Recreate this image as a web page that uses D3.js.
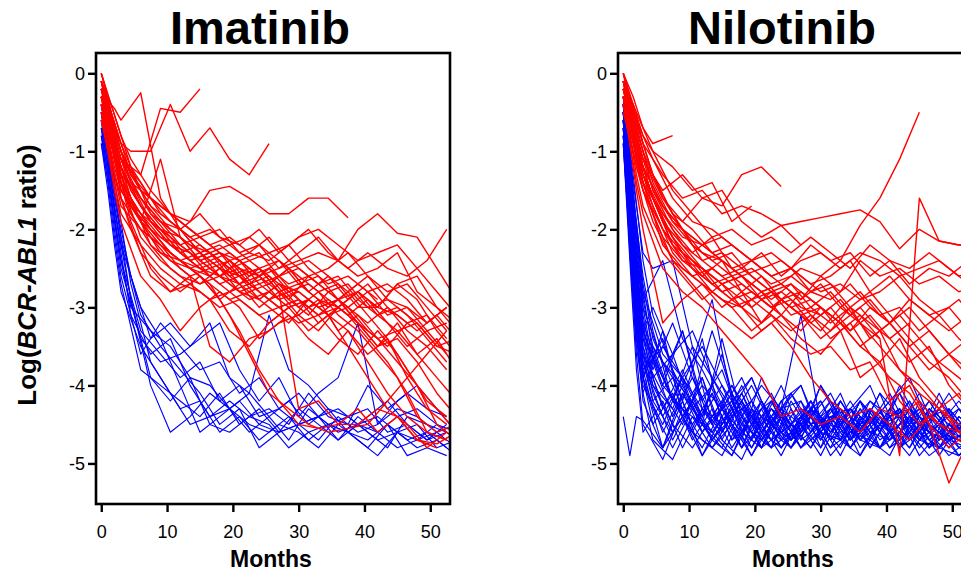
<!DOCTYPE html>
<html>
<head>
<meta charset="utf-8">
<script src="https://cdn.jsdelivr.net/npm/d3@7"></script>
<style>
  html, body { margin: 0; padding: 0; background: #fff; overflow: hidden; }
  svg { display: block; font-family: "Liberation Sans", Arial, sans-serif; }
</style>
</head>
<body>
<svg id="chart" width="961" height="573"></svg>
<script>
// two visit schedules (months)
const monthsA = [0, 1, 2, 3, 6, 9, 12, 15, 18, 21, 24, 27, 30, 33, 36, 39, 42, 45, 48, 51, 54]
const monthsB = [0, 1.5, 3, 4.5, 7.5, 10.5, 13.5, 16.5, 19.5, 22.5, 25.5, 28.5, 31.5, 34.5, 37.5, 40.5, 43.5, 46.5, 49.5, 52.5, 55.5]

const xTicks = [0, 10, 20, 30, 40, 50]
const yTicks = [0, -1, -2, -3, -4, -5]

// Imatinib, log ratio per visit
const imaRedA = [
  [-0.2,-0.35,-0.45,-0.6,-0.25,-1.6,-2.0,-2.3,-2.5,-2.6,-2.5,-2.8,-2.7,-2.9,-3.0,-2.8,-3.1,-3.3,-3.2,-3.5,-3.6],
  [-0.4,-0.7,-1.0,-1.1,-1.3,-0.45,-0.5,-0.2],
  [0,-0.3,-0.8,-1.3,-1.9,-2.2,-2.4,-2.5,-2.7,-2.6,-2.9,-2.7,-2.8,-3.0,-2.9,-3.2,-3.4,-3.3,-3.6,-3.9,-4.2],
  [-0.1,-0.4,-0.9,-1.2,-1.7,-2.0,-2.1,-2.4,-2.3,-2.6,-2.5,-2.4,-2.7,-2.6,-2.9,-2.8,-3.0,-2.7,-2.6,-3.0,-3.3],
  [-0.3,-0.6,-1.0,-1.3,-1.6,-1.9,-2.2,-2.1,-2.3,-2.4,-2.6,-2.5,-2.4,-2.3,-2.4,-2.0,-1.8,-2.05,-2.1,-2.5,-2.9],
  [-0.2,-0.7,-1.1,-1.5,-1.9,-2.3,-2.4,-2.6,-2.9,-3.3,-3.8,-4.2,-4.5,-4.55,-4.5,-4.5,-4.3,-4.4,-4.7,-4.75,-4.6],
  [-0.5,-0.9,-1.3,-1.6,-2.0,-2.2,-2.4,-2.3,-2.6,-2.7,-2.5,-2.8,-4.3,-4.2,-4.5,-4.3,-4.6,-4.4,-4.7,-4.8],
  [-0.1,-0.5,-0.8,-1.1,-1.4,-1.8,-2.0,-2.3,-2.2,-2.4,-2.3,-2.6,-2.5,-2.7,-2.6,-2.9,-3.1,-3.0,-3.2,-3.5,-3.4],
  [-0.3,-0.6,-1.0,-1.4,-2.1,-2.4,-2.6,-2.7,-2.5,-2.8,-2.9,-2.7,-3.0,-2.8,-3.1,-3.3,-3.6,-3.9,-4.4,-4.6,-4.5],
  [0,-0.3,-0.7,-1.0,-1.5,-1.7,-1.9,-2.1,-2.0,-2.3,-2.2,-2.5,-2.3,-2.1,-2.4,-2.6,-2.5,-2.3,-2.8,-3.0,-3.2],
  [-0.4,-0.8,-1.2,-1.5,-1.8,-2.1,-2.3,-2.5,-2.6,-2.4,-2.7,-2.6,-2.9,-3.1,-3.0,-2.8,-3.0,-3.1,-3.3,-3.1,-3.4],
  [-0.2,-0.5,-0.9,-1.2,-1.7,-2.0,-2.3,-2.2,-2.4,-2.6,-2.8,-3.0,-2.9,-3.2,-3.0],
  [-0.6,-1.0,-1.4,-1.8,-2.2,-2.5,-2.7,-2.8,-3.0,-2.9,-3.1,-3.0,-3.2,-3.1,-3.4,-3.6,-3.3,-3.6,-4.0,-4.3,-4.6],
  [-0.1,-0.4,-0.8,-1.1,-1.6,-1.9,-2.0,-1.8,-2.1,-2.2,-2.0,-2.3,-2.1,-2.0,-2.2,-2.4,-2.3,-2.2,-2.5,-2.8,-3.1],
  [-0.3,-0.6,-1.1,-1.4,-1.8,-2.0,-2.3,-2.5,-2.4,-2.7,-2.6,-2.9],
  [-0.2,-0.5,-1.0,-1.6,-2.3,-2.6,-2.8,-2.6,-2.9,-2.7,-3.0,-2.8,-3.1,-2.9,-3.3,-3.1,-3.4,-3.7,-4.0,-4.5,-4.7],
  [-0.4,-0.7,-1.1,-1.5,-1.9,-2.1,-2.2,-2.4,-2.3,-2.5,-2.6,-2.4,-2.6,-2.8,-2.7,-3.0,-3.0,-2.7,-2.9,-3.3,-3.6],
  [-0.1,-0.5,-0.9,-1.4,-1.9,-1.1,-2.1,-2.4,-2.6,-2.5,-2.8,-3.0,-2.9,-3.1,-2.9,-3.2,-3.5,-3.2,-3.6,-3.4,-3.8],
  [-0.3,-0.8,-1.3,-1.7,-2.0,-2.2,-2.5,-2.7,-2.6,-2.8,-2.7,-2.9,-2.8,-3.0,-2.9,-2.7,-2.9],
  [-0.5,-1.0,-1.5,-1.9,-2.6,-2.9,-3.3,-3.0,-2.8,-3.0,-3.4,-3.2,-3.1,-3.3,-3.0,-3.2,-3.5,-3.4,-3.7,-4.1,-4.4]
]
const imaRedB = [
  [-0.2,-0.6,-0.9,-1.0,-1.0,-0.4,-1.0,-0.7,-1.1,-1.3,-0.9],
  [-0.3,-0.7,-1.1,-1.4,-1.6,-1.8,-1.9,-1.5,-1.45,-1.6,-1.8,-1.8,-1.6,-1.6,-1.85],
  [-0.3,-0.8,-1.3,-1.7,-2.0,-2.3,-2.5,-2.7,-3.1,-3.6,-4.1,-4.3,-4.5,-4.6,-4.55,-4.5,-4.2,-3.9,-3.6,-3.3],
  [-0.1,-0.6,-1.0,-1.3,-1.7,-2.0,-2.2,-2.3,-2.5,-2.4,-2.6,-2.8,-2.7,-2.9,-3.1,-2.9,-3.2,-3.5,-3.3,-3.6],
  [-0.2,-0.5,-0.9,-1.2,-1.6,-1.9,-2.1,-2.0,-2.2,-2.1,-2.3,-2.2,-2.0,-2.3,-2.5,-2.3,-2.5,-2.6,-2.4,-2.0],
  [-0.4,-0.8,-1.2,-1.6,-2.0,-2.3,-2.5,-2.6,-2.8,-2.7,-2.9,-2.8,-3.0,-2.9,-3.1,-3.4,-3.7,-4.1,-4.6,-4.7],
  [0,-0.4,-0.8,-1.2,-1.8,-2.1,-2.4,-2.3,-2.5,-2.7,-2.6,-2.9,-3.1,-2.8,-3.0,-3.2,-3.0,-3.3,-3.5,-3.8],
  [-0.3,-0.9,-1.4,-1.9,-2.5,-2.8,-2.6,-3.5,-3.7,-3.4,-3.3,-3.1,-3.4,-3.6,-3.3,-3.7,-4.1,-4.4,-4.6,-4.7],
  [-0.2,-0.6,-1.1,-1.5,-1.9,-2.2,-2.3,-2.5,-2.4,-2.6,-2.5,-2.7,-2.6,-2.8,-3.0,-2.8,-3.1,-3.0,-3.3,-3.2],
  [-0.5,-0.9,-1.3,-1.7,-2.1,-2.4,-2.6,-2.5,-2.7,-2.9,-2.8,-3.0,-2.9],
  [-0.1,-0.5,-1.0,-1.4,-1.8,-2.0,-2.2,-2.4,-2.3,-2.5,-2.7,-2.5,-2.4,-2.6,-2.8,-2.6,-2.9,-3.0,-3.2,-3.0],
  [-0.3,-0.7,-1.2,-1.6,-2.2,-2.5,-2.7,-2.9,-2.8,-3.0,-3.2,-3.0,-2.9,-3.1,-3.3,-3.6,-3.4,-3.9,-4.3,-4.5],
  [-0.2,-0.6,-1.0,-1.3,-1.7,-1.9,-2.1,-2.3,-2.2,-2.4,-2.3,-2.5,-2.8,-2.6,-2.9,-2.7,-3.0,-3.2,-3.1,-3.4],
  [-0.4,-0.9,-1.4,-1.8,-2.2,-2.4,-2.5,-2.7,-2.9,-2.8,-3.0,-3.2,-2.9,-3.1,-3.0,-3.3,-3.5,-3.2],
  [-0.1,-0.4,-0.8,-1.1,-1.5,-1.8,-2.0,-2.2,-2.4,-2.3,-2.1,-2.4,-2.6,-2.5,-2.3,-2.6,-2.8,-2.7,-3.0,-3.3],
  [-0.6,-1.1,-1.6,-2.0,-2.6,-2.8,-2.7,-2.9,-3.3,-3.5,-3.2,-3.0,-3.3,-3.1,-3.5,-3.9,-4.3,-4.5,-4.8,-4.6],
  [-0.3,-0.6,-1.0,-1.4,-1.9,-2.2,-2.4,-2.3,-2.6,-2.5,-2.7,-2.9,-2.6,-2.8,-2.7,-3.0,-2.9,-3.1,-3.4,-3.7],
  [-0.2,-0.7,-1.2,-1.5,-1.9,-2.1,-2.3,-2.6,-2.4,-2.7,-2.5,-2.8],
  [-0.4,-0.8,-1.3,-1.7,-2.0,-2.3,-2.5,-2.4,-2.6,-2.8,-2.7,-2.5,-2.8,-3.0,-2.8,-3.1,-3.4,-3.8,-4.2,-4.4],
  [-0.1,-0.5,-0.9,-1.3,-1.6,-1.8,-2.0,-2.2,-2.1,-2.3,-2.4,-2.2,-2.5,-2.7,-2.6,-2.8,-2.7,-2.9,-3.2,-3.0]
]
const imaBlueA = [
  [-0.4,-1.0,-1.8,-2.4,-3.3,-3.6,-3.9,-3.7,-4.2,-4.0,-4.4,-4.3,-4.5,-4.4,-4.6,-4.5,-4.7,-4.6,-4.5,-4.8,-4.7],
  [-0.7,-1.3,-2.0,-2.6,-3.6,-3.2,-3.5,-3.8,-3.7,-4.1,-3.9,-4.3,-4.1,-4.4,-4.3,-4.5,-4.4,-4.6,-4.7,-4.6,-4.8],
  [-0.5,-1.1,-1.7,-2.2,-3.0,-3.4,-4.0,-4.6,-4.4,-4.2,-4.5,-4.6,-4.3,-4.5,-4.7,-4.4,-4.6,-4.8,-4.7,-4.5,-4.6],
  [-0.9,-1.5,-2.2,-2.8,-3.5,-3.9,-4.3,-4.2,-4.6,-4.4,-4.7,-4.5,-4.6,-4.8,-4.5,-4.7,-4.9,-4.6,-4.8,-4.7,-4.9],
  [-0.6,-1.2,-1.9,-2.5,-3.4,-3.7,-3.6,-3.4,-3.2,-3.8,-4.2,-3.9,-4.4,-4.1,-3.9,-3.2,-4.5,-4.3,-4.4,-4.6,-4.5],
  [-0.8,-1.4,-2.1,-2.7,-3.8,-4.0,-4.2,-4.4,-4.1,-4.5,-4.3,-4.6,-4.5,-4.4,-4.7,-4.5,-4.6,-4.4,-4.3,-4.5,-4.7],
  [-0.5,-1.0,-1.6,-2.1,-3.1,-3.5,-3.8,-4.1,-4.5,-4.3,-4.8,-4.6,-4.5,-4.7,-4.4,-4.6,-4.5,-4.2,-4.0,-4.3,-4.6]
]
const imaBlueB = [
  [-0.6,-1.3,-2.0,-2.6,-3.4,-3.2,-3.5,-3.2,-3.9,-4.1,-3.1,-3.8,-4.0,-4.3,-4.4,-4.3,-4.6,-4.5,-4.7,-4.6],
  [-0.4,-1.1,-1.9,-2.7,-3.7,-4.1,-4.5,-4.4,-4.3,-4.5,-4.6,-4.4,-4.7,-4.5,-4.6,-4.8,-4.5,-4.7,-4.6,-4.8],
  [-0.9,-1.6,-2.4,-3.0,-3.3,-3.5,-3.9,-4.0,-4.3,-4.1,-4.4,-4.2,-4.5,-4.3,-4.6,-4.4,-4.2,-4.5,-4.7,-4.5],
  [-0.5,-1.2,-2.1,-2.9,-4.0,-4.6,-4.4,-4.1,-4.3,-4.6,-4.4,-4.7,-4.3,-4.5,-4.4,-4.6,-4.8,-4.4,-4.5,-4.6],
  [-0.7,-1.4,-2.3,-3.1,-3.6,-3.4,-4.0,-4.4,-4.2,-4.4,-4.3,-4.5,-4.1,-4.4,-4.5,-4.0,-4.3,-4.1,-4.3,-4.4],
  [-0.8,-1.5,-2.2,-2.9,-3.9,-4.2,-3.9,-4.5,-4.6,-4.4,-4.5,-4.8,-4.6,-4.5,-4.6,-4.7,-4.5,-4.9,-4.8,-4.9]
]

// Nilotinib, log ratio per visit
const nilRedA = [
  [-0.1,-0.5,-0.9,-1.2,-1.7,-2.0,-2.3,-2.4,-2.6,-2.8,-2.7,-2.9,-2.6,-2.4,-1.95,-1.6,-1.1,-0.5],
  [-0.2,-0.6,-1.0,-1.3,-1.9,-2.2,-2.5,-2.7,-2.6,-2.9,-2.8,-3.0,-3.1,-2.9,-3.2,-3.4,-4.9,-1.6,-2.15,-2.2,-2.2],
  [0,-0.3,-0.6,-0.9,-1.3,-1.6,-1.5,-1.8,-1.7,-1.8,-1.95,-1.9,-1.85,-1.8,-1.75,-1.9,-2.25,-2.0,-2.15,-2.2,-2.2],
  [-0.2,-0.5,-0.8,-1.1,-1.6,-1.9,-1.6,-1.7,-1.3,-1.2,-1.45],
  [-0.1,-0.4,-0.8,-1.1,-1.5,-1.3,-1.6,-1.5,-1.9,-2.1,-1.95,-2.2],
  [-0.3,-0.7,-1.1,-1.5,-2.0,-2.3,-2.5,-2.7,-2.6,-2.8,-2.7,-2.5,-2.6,-2.8,-2.4,-2.6,-2.5,-2.7,-2.6,-2.8,-2.7],
  [-0.1,-0.5,-1.0,-1.4,-2.2,-2.5,-2.7,-2.9,-3.0,-2.8,-3.1,-3.3,-3.0,-3.2,-3.5,-3.3,-3.8,-4.1,-4.3,-4.5,-4.6],
  [-0.4,-0.9,-1.4,-1.8,-2.5,-2.8,-3.0,-3.3,-3.6,-3.9,-4.4,-4.3,-4.5,-4.4,-4.6,-4.3,-4.4,-4.2,-4.5,-4.6,-4.4],
  [-0.2,-0.6,-1.1,-1.4,-1.8,-2.1,-2.2,-2.4,-2.6,-2.5,-2.7,-2.9,-2.7,-3.0,-2.8,-3.1,-3.0,-3.3,-3.1,-3.4,-3.6],
  [0,-0.4,-0.7,-1.0,-1.6,-2.0,-2.4,-2.3,-2.5,-2.3,-2.6,-2.4,-2.3,-2.5,-2.3,-2.4,-2.6,-2.5,-2.4,-2.6,-2.5],
  [-0.3,-0.8,-1.3,-1.7,-2.3,-2.6,-2.9,-2.7,-3.0,-3.2,-2.9,-3.1,-3.4,-3.2,-3.5,-3.7,-3.4,-3.9,-4.2,-4.6,-4.8],
  [-0.1,-0.5,-0.9,-1.3,-1.9,-2.3,-2.6,-2.4,-2.8,-2.6,-2.9,-3.1,-3.0],
  [-0.1,-0.4,-0.8,-1.2,-1.7,-2.0,-2.2,-2.1,-2.3,-2.5,-2.4,-2.6,-2.8,-2.7,-2.9,-2.8,-2.6,-2.9,-3.1,-2.9,-3.2],
  [-0.3,-0.9,-1.5,-2.0,-3.2,-2.9,-2.7,-3.0,-2.8,-3.2,-2.9,-3.1,-3.3,-3.0,-3.2,-3.5,-3.8,-4.0,-4.3,-4.1,-4.5],
  [-0.2,-0.5,-0.9,-1.3,-1.8,-2.2,-2.4,-2.6,-2.5,-2.7,-2.9,-2.8,-3.0,-3.2,-3.0,-3.3,-3.1,-3.4,-3.7,-3.9,-4.1],
  [-0.1,-0.6,-1.0,-1.4,-2.0,-2.4,-2.6,-2.8,-2.7,-2.9,-3.1,-2.8,-3.0,-3.3,-3.1,-3.4],
  [-0.4,-0.8,-1.2,-1.5,-2.1,-2.4,-2.5,-2.8,-3.0,-3.3,-3.1,-3.4,-3.6,-3.3,-3.9,-3.7,-4.2,-4.5,-4.3,-4.6,-4.7]
]
const nilRedB = [
  [-0.2,-0.6,-1.0,-1.4,-1.9,-2.2,-2.4,-2.6,-2.5,-2.7,-2.6,-2.8,-2.7,-3.0,-2.8,-3.1,-3.4,-3.7,-3.9,-4.2],
  [0,-0.4,-0.8,-1.1,-1.6,-1.9,-2.0,-2.2,-2.4,-2.3,-2.5,-2.2,-2.4,-2.3,-2.6,-2.4,-2.7,-2.5,-2.6,-2.4],
  [-0.1,-0.5,-0.8,-1.0,-1.2,-1.5,-1.4,-1.9,-1.7],
  [-0.2,-0.4,-0.7,-0.9,-0.8],
  [-0.3,-0.7,-1.2,-1.6,-2.1,-2.4,-2.6,-2.8,-3.0,-2.8,-3.1,-3.0,-3.2,-3.0,-3.4,-3.2,-3.5,-3.8,-3.6,-3.9],
  [-0.1,-0.5,-1.0,-1.5,-2.0,-2.3,-2.1,-2.5,-2.7,-2.9,-2.7,-3.0,-2.8,-3.1,-2.9,-3.2,-3.0,-3.3,-3.6,-3.4],
  [-0.4,-0.9,-1.4,-1.8,-2.4,-2.7,-3.0,-3.2,-3.4,-3.2,-3.5,-3.9,-4.2,-4.4,-4.3,-4.5,-4.7,-4.4,-4.6,-4.8],
  [-0.2,-0.6,-1.1,-1.5,-1.9,-2.1,-2.3,-2.2,-2.4,-2.6,-2.5,-2.7,-2.6,-2.4,-2.8,-2.6,-2.9,-3.1,-3.0,-3.3],
  [0,-0.3,-0.7,-1.0,-1.5,-1.8,-2.1,-2.0,-2.2,-2.1,-2.3,-2.1,-2.3,-2.5,-2.2,-2.4,-2.5,-2.3,-2.5,-2.7],
  [-0.3,-0.8,-1.3,-1.7,-2.3,-2.6,-2.8,-3.0,-2.9,-3.1,-3.3,-3.1,-3.4,-3.2,-3.6,-3.9,-4.1,-4.5,-4.8,-4.6],
  [-0.1,-0.5,-0.9,-1.3,-1.8,-2.2,-2.4,-2.3,-2.6,-2.8,-2.7,-2.9],
  [-0.2,-0.7,-1.2,-1.6,-2.1,-2.5,-2.7,-2.6,-2.8,-3.0,-2.8,-3.1,-3.3,-3.0,-3.2,-3.4,-3.7,-3.5,-4.0,-4.3],
  [-0.5,-1.0,-1.5,-1.9,-2.4,-2.6,-2.5,-2.7,-2.9,-2.8,-3.0,-2.9,-3.1,-3.3,-3.0,-3.2,-3.5,-3.3,-3.6,-3.8],
  [-0.2,-0.7,-1.2,-1.6,-2.2,-2.5,-2.8,-3.0,-3.3,-3.1,-3.4,-3.6,-3.5,-3.8,-3.7,-4.2,-4.0,-4.5,-5.25,-4.7],
  [-0.1,-0.4,-0.9,-1.3,-1.8,-2.0,-2.3,-2.5,-2.4,-2.6,-2.5,-2.8,-2.9,-2.7,-3.0,-3.2,-2.9,-3.1,-3.3,-3.1],
  [-0.3,-0.8,-1.2,-1.6,-2.2,-2.4,-2.7,-2.9,-2.8,-3.0,-2.9,-3.2,-3.0,-3.3,-3.1,-3.4,-3.2]
]
const nilBlueA = [
  [-4.4,-4.9,-4.4,-4.45,-4.8,-4.1,-4.6,-4.3,-4.8,-4.2,-4.6,-4.4],
  [-0.5,-1.8,-3.0,-3.6,-4.1,-4.5,-3.9,-4.6,-4.1,-4.7,-4.3,-4.5,-4.8,-4.2,-4.6,-4.1,-4.7,-4.4,-4.8,-4.5,-4.7],
  [-0.3,-1.2,-2.2,-3.0,-3.7,-4.0,-4.5,-3.4,-4.4,-4.8,-4.2,-4.0,-4.6,-4.7,-4.2,-4.8,-4.3,-4.6,-4.1,-4.6,-4.4],
  [-0.7,-2.0,-3.3,-4.2,-4.8,-4.2,-4.9,-4.4,-4.8,-4.5,-4.3,-4.8,-4.5,-4.9,-4.4,-4.8,-4.5,-4.3,-4.8,-4.9,-4.6],
  [-0.6,-1.5,-2.4,-2.9,-2.4,-3.4,-3.8,-4.3,-3.9,-4.5,-4.0,-4.6,-4.2,-4.7,-4.3,-4.6,-4.1,-4.7,-4.8,-4.4,-4.6],
  [-0.4,-1.4,-2.6,-3.4,-3.9,-3.3,-4.2,-3.8,-4.5,-4.7,-4.3,-4.0,-4.7,-4.2,-4.6,-4.3,-4.8,-4.2,-4.5,-4.8,-4.9],
  [-0.8,-2.2,-3.6,-4.5,-4.95,-4.3,-4.7,-4.9,-4.4,-4.8,-4.6,-4.2,-4.8,-4.4,-4.9,-4.5,-4.4,-4.8,-4.5,-4.9,-4.7],
  [-0.5,-1.6,-2.9,-3.7,-4.4,-3.9,-4.6,-4.2,-4.8,-4.3,-4.8,-4.4,-4.2,-4.7,-4.2,-4.5,-4.3,-4.7,-4.5,-4.3,-4.6],
  [-0.6,-1.9,-3.1,-3.8,-3.5,-3.9,-3.5,-4.0,-4.4,-4.0,-4.3,-3.1,-4.5,-4.2,-4.6,-4.1,-4.4,-4.7,-4.2,-4.5,-4.4],
  [-0.3,-1.0,-2.0,-2.8,-3.6,-3.9,-4.3,-4.6,-4.2,-4.8,-4.4,-4.8,-4.4,-4.7,-4.9,-4.4,-4.8,-4.5,-4.9,-4.5,-4.7],
  [-0.9,-2.4,-3.8,-4.6,-4.2,-4.8,-4.3,-4.7,-4.95,-4.4,-4.8,-4.5,-4.9,-4.4,-4.7,-4.8,-4.4,-4.9,-4.6,-4.7,-4.8],
  [-0.5,-1.7,-2.7,-3.3,-4.0,-3.3,-4.3,-4.5,-4.0,-4.6,-4.2,-4.7,-4.0,-4.4,-4.7,-4.5,-4.1,-4.5,-4.7,-4.3,-4.5],
  [-0.4,-1.3,-2.5,-3.2,-3.9,-4.4,-4.8,-4.3,-4.6,-4.8,-4.3,-4.7,-4.5,-4.1,-4.7,-4.3,-4.8,-4.4,-4.6,-4.9,-4.6],
  [-0.7,-2.1,-3.4,-4.0,-4.5,-3.9,-4.4,-3.6,-4.6,-4.2,-4.7,-4.3,-4.5,-4.8,-4.3,-4.7,-4.5,-4.1,-4.7,-4.5,-4.7],
  [-0.6,-1.8,-3.0,-3.9,-4.8,-4.4,-4.9,-4.5,-4.2,-4.7,-4.4,-4.8,-4.6,-4.3,-4.5,-4.8,-4.6,-4.3,-4.5,-4.7,-4.5],
  [-0.4,-1.5,-2.8,-3.5,-4.3,-3.8,-4.4,-4.0,-4.6,-4.2,-4.7],
  [-0.8,-2.0,-3.2,-3.9,-3.4,-4.2,-3.4,-4.5,-4.1,-4.6,-4.8,-4.4,-4.7,-4.3,-4.7,-4.4,-4.8,-4.6,-4.3,-4.8,-4.6],
  [-0.5,-1.6,-2.6,-3.3,-4.0,-4.3,-3.9,-4.7,-4.2,-4.6,-4.3,-4.2,-4.6,-4.7,-4.2,-4.5,-4.3,-4.7,-4.5,-4.2,-4.5],
  [-0.6,-2.3,-3.5,-4.1,-3.3,-4.4,-4.0,-4.3,-4.7,-3.9,-4.4,-4.6,-4.0,-4.5,-4.2,-4.6,-4.0,-4.5,-4.3,-4.6,-4.4],
  [-0.4,-1.7,-3.2,-3.9,-4.6,-4.1,-4.5,-4.8,-4.3,-4.5,-4.9,-4.4,-4.6,-4.3,-4.8,-4.5,-4.3,-4.6,-4.8,-4.4,-4.6]
]
const nilBlueB = [
  [-0.6,-2.4,-3.7,-4.2,-4.6,-4.2,-4.7,-4.3,-4.8,-4.4,-4.7,-4.2,-4.6,-4.4,-4.8,-4.4,-4.7,-4.3,-4.6,-4.8],
  [-0.4,-1.9,-3.1,-3.8,-3.2,-3.9,-4.4,-4.0,-4.5,-4.8,-4.2,-4.6,-4.3,-4.7,-4.5,-4.2,-4.7,-4.3,-4.5,-4.7],
  [-0.7,-2.5,-3.6,-4.0,-4.3,-3.7,-2.9,-4.2,-4.6,-4.2,-4.7,-4.3,-4.5,-4.8,-4.4,-4.7,-4.3,-4.8,-4.5,-4.6],
  [-0.3,-1.6,-2.8,-3.6,-4.2,-4.6,-4.1,-4.7,-4.3,-4.5,-4.8,-4.4,-4.1,-4.6,-4.7,-4.3,-4.5,-4.8,-4.6,-4.4],
  [-0.9,-2.9,-4.1,-4.7,-4.95,-4.4,-4.8,-4.4,-4.9,-4.5,-4.8,-4.4,-4.9,-4.6,-4.4,-4.8,-4.6,-4.9,-4.7,-4.8],
  [-0.5,-2.0,-3.3,-3.0,-3.6,-3.3,-3.9,-4.3,-3.9,-4.5,-4.1,-4.6,-4.2,-4.7,-4.3,-4.5,-4.2,-4.6,-4.7,-4.4],
  [-0.6,-2.2,-3.5,-4.1,-4.7,-4.2,-4.6,-4.9,-4.3,-4.7,-4.5,-4.2,-4.7,-4.3,-4.8,-4.4,-4.3,-4.7,-4.5,-4.8],
  [-0.4,-1.4,-2.3,-2.5,-2.4,-3.5,-3.9,-4.4,-4.0,-4.5,-4.7,-4.3,-4.6,-4.2,-4.6,-4.7,-4.3,-4.5,-4.8,-4.5],
  [-0.8,-2.6,-3.9,-4.5,-4.1,-4.7,-4.3,-4.8,-4.4,-4.2,-4.7,-4.4,-4.8,-4.6,-4.3,-4.7,-4.5,-4.2,-4.6,-4.7],
  [-0.5,-1.8,-3.0,-3.7,-4.4,-3.9,-4.5,-4.1,-4.6,-4.8,-4.3,-4.7,-4.4,-4.3,-4.7,-4.9,-4.4,-4.6,-4.3,-4.6],
  [-0.7,-2.3,-3.4,-3.9,-3.6,-4.3,-4.6,-4.2,-3.9,-4.5,-4.7,-4.2,-4.6,-4.3,-4.0,-4.6,-4.2,-4.7,-4.5,-4.6],
  [-0.3,-1.5,-2.7,-3.4,-4.0,-4.6,-4.8,-4.5,-4.9,-4.4,-4.8,-4.5,-4.4,-4.8,-4.4,-4.6,-4.9,-4.5,-4.7,-4.6],
  [-0.6,-2.1,-3.3,-4.0,-4.5,-4.8,-4.4,-4.2,-4.7,-4.3,-4.5,-4.8,-4.3,-4.7,-4.2,-4.5,-4.8,-4.3,-4.6,-4.5],
  [-0.5,-1.7,-2.9,-3.5,-3.9,-4.2,-3.3,-4.1,-4.5,-4.1,-4.6,-4.2,-4.7,-4.3,-4.5,-4.2,-3.9,-4.5,-4.1,-4.5],
  [-0.8,-2.7,-3.8,-4.3,-4.8,-4.3,-4.7,-4.9,-4.4,-4.8,-4.6,-4.3,-4.6],
  [-0.4,-1.6,-2.6,-3.3,-4.2,-4.4,-4.6,-4.3,-4.7,-4.2,-4.5,-4.8,-4.4,-4.7,-4.3,-4.6,-4.4,-4.8,-4.3,-4.6],
  [-0.7,-2.4,-3.6,-4.2,-3.9,-4.5,-4.1,-4.7,-4.5,-4.3,-4.7,-4.5,-4.2,-4.7,-4.4,-4.8,-4.4,-4.6,-4.9,-4.7],
  [-0.5,-2.0,-3.2,-3.9,-4.6,-4.2,-4.7,-4.4,-4.2,-4.6,-4.8,-4.3,-4.7,-4.5,-4.2,-4.4,-4.7,-4.4,-4.3,-4.8],
  [-0.9,-2.8,-3.9,-3.5,-4.2,-3.5,-4.5,-4.0,-4.4,-4.7,-4.1,-4.5,-4.3,-4.8,-4.5,-4.1,-4.6,-4.2,-4.6,-4.5],
  [-0.3,-1.3,-2.4,-3.1,-3.8,-4.3,-4.0,-4.5,-4.8,-4.3,-4.6,-4.4,-4.8,-4.3,-4.6,-4.5,-4.8,-4.4,-4.7,-4.6]
]

const RED = '#ff0000', BLUE = '#0000ff'

const panels = [
  { title: 'Imatinib', left: 96, groups: [
      { rows: imaBlueA, months: monthsA, color: BLUE },
      { rows: imaBlueB, months: monthsB, color: BLUE },
      { rows: imaRedA, months: monthsA, color: RED },
      { rows: imaRedB, months: monthsB, color: RED } ] },
  { title: 'Nilotinib', left: 618, groups: [
      { rows: nilBlueA, months: monthsA, color: BLUE },
      { rows: nilBlueB, months: monthsB, color: BLUE },
      { rows: nilRedA, months: monthsA, color: RED },
      { rows: nilRedB, months: monthsB, color: RED } ] }
]

const svg = d3.select('#chart')
svg.append('rect').attr('width', 961).attr('height', 573).attr('fill', '#fff')

const plotW = 354, plotTop = 53, plotBottom = 504
const y = d3.scaleLinear().domain([-5.52, 0.26]).range([plotBottom, plotTop])

panels.forEach((p, pi) => {
  const x = d3.scaleLinear().domain([-0.8, 53]).range([p.left, p.left + plotW])
  const g = svg.append('g')

  // clip lines to plot box
  svg.append('clipPath').attr('id', 'clip' + pi)
    .append('rect').attr('x', p.left).attr('y', plotTop).attr('width', plotW).attr('height', plotBottom - plotTop)

  const line = d3.line().x(d => x(d[0])).y(d => y(d[1]))
  const lines = g.append('g').attr('clip-path', 'url(#clip' + pi + ')')
  p.groups.forEach(grp => {
    lines.selectAll(null)
      .data(grp.rows)
      .enter().append('path')
      .attr('d', r => line(r.map((v, i) => [grp.months[i], v])))
      .attr('fill', 'none')
      .attr('stroke', grp.color)
      .attr('stroke-width', grp.color === RED ? 1.4 : 1.15)
      .attr('stroke-linejoin', 'round')
  })

  // box
  g.append('rect')
    .attr('x', p.left).attr('y', plotTop).attr('width', plotW).attr('height', plotBottom - plotTop)
    .attr('fill', 'none').attr('stroke', '#000').attr('stroke-width', 2.6)

  const xAxis = g.append('g').attr('transform', `translate(0,${plotBottom})`)
    .call(d3.axisBottom(x).tickValues(xTicks).tickSize(8).tickPadding(13).tickFormat(d => String(d)))
  const yAxis = g.append('g').attr('transform', `translate(${p.left},0)`)
    .call(d3.axisLeft(y).tickValues(yTicks).tickSize(8).tickPadding(3).tickFormat(d => String(d)))
  ;[xAxis, yAxis].forEach(a => {
    a.select('.domain').remove()
    a.selectAll('line').attr('stroke', '#000').attr('stroke-width', 2.4)
    a.selectAll('text').attr('fill', '#000').style('font-size', '18px')
      .style('font-family', '"Liberation Sans", Arial, sans-serif')
  })

  g.append('text')
    .attr('x', p.left + 164).attr('y', 44)
    .attr('text-anchor', 'middle')
    .style('font-size', '47px').style('font-weight', 'bold')
    .text(p.title)

  g.append('text')
    .attr('x', p.left + plotW / 2 - 2).attr('y', 567)
    .attr('text-anchor', 'middle')
    .style('font-size', '23px').style('font-weight', 'bold')
    .text('Months')
})

// y axis title
const yl = svg.append('text')
  .attr('transform', 'translate(36,275) rotate(-90)')
  .attr('text-anchor', 'middle')
  .style('font-size', '26px').style('font-weight', 'bold')
yl.append('tspan').text('Log(')
yl.append('tspan').style('font-style', 'italic').text('BCR-ABL1')
yl.append('tspan').text(' ratio)')
</script>
</body>
</html>
